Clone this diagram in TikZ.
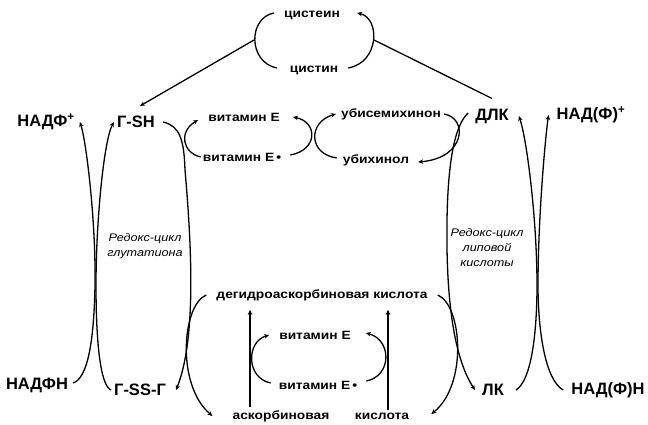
\documentclass[tikz,border=0pt]{standalone}
\usepackage{fontspec}
\setmainfont{Liberation Sans}
\newfontfamily\smallf{Liberation Sans}[FakeStretch=1.15]
\usetikzlibrary{arrows.meta,calc}
\tikzset{
  big/.style={font=\bfseries\fontsize{16.5}{18}\selectfont, inner sep=0pt},
  sm/.style={font=\smallf\bfseries\fontsize{12}{14}\selectfont, inner sep=0pt},
  it/.style={font=\smallf\itshape\fontsize{11}{15}\selectfont, inner sep=0pt, align=center},
  ln/.style={line width=1.3pt},
  arr/.style={ln, -{Stealth[length=5pt,width=4.5pt]}}
}
\begin{document}
\begin{tikzpicture}[x=1pt,y=-1pt]
\useasboundingbox (0,0) rectangle (648,425);
% nodes
\node[sm] (cys) at (312,15) {цистеин};
\node[sm] (cyss) at (314,70) {цистин};
\node[big] (nadp) at (46,122) {НАДФ\textsuperscript{+}};
\node[big] (gsh) at (136,122) {Г-SH};
\node[sm] (ve1) at (244,117) {витамин Е};
\node[sm] (ver1) at (242,157) {витамин Е\,•};
\node[sm] (usq) at (391,114) {убисемихинон};
\node[sm] (uq) at (376,160) {убихинол};
\node[big] (dlk) at (492,116) {ДЛК};
\node[big] (nadp2) at (591,115) {НАД(Ф)\textsuperscript{+}};
\node[it] (rc1) at (145,246) {Редокс-цикл\\глутатиона};
\node[it] (rc2) at (487,248) {Редокс-цикл\\липовой\\кислоты};
\node[sm] (dha) at (322,295) {дегидроаскорбиновая кислота};
\node[sm] (ve2) at (315,335) {витамин Е};
\node[sm] (ver2) at (318,385) {витамин Е\,•};
\node[sm] (asc) at (281,416) {аскорбиновая};
\node[sm] (acid) at (382,416) {кислота};
\node[big] (nadph) at (37,385) {НАДФН};
\node[big] (gssg) at (140,390) {Г-SS-Г};
\node[big] (lk) at (493,390) {ЛК};
\node[big] (nadph2) at (608,390) {НАД(Ф)Н};
\coordinate (bl) at (254,40);
\coordinate (br) at (374,40);
\coordinate (vl) at (250,0);
\coordinate (vr) at (388,0);
% cysteine / cystine
\draw[ln] ($(cys.west)+(-10,-2)$) .. controls (248,18) and (248,62) .. ($(cyss.west)+(-13,-2)$);
\draw[arr] ($(cyss.east)+(10,-2)$) .. controls (380,62) and (380,18) .. ($(cys.east)+(17,-2)$);
\draw[arr] (bl) -- ($(gsh.north)+(4,-10)$);
\draw[ln] (br) -- ($(dlk.north)+(0,-10)$);
% glutathione cycle
\draw[arr] ($(nadph.east)+(5,-2)$) .. controls (88,378) and (94,340) .. (95,285) .. controls (96,220) and (86,140) .. ($(nadp.east)+(5,0)$);
\draw[arr] ($(gssg.west)+(-3,0)$) .. controls (100,385) and (96,340) .. (96,285) .. controls (96,220) and (104,140) .. ($(gsh.west)+(-3,0)$);
\draw[arr] ($(gsh.east)+(8,0)$) .. controls (180,126) and (184,140) .. (185,170) .. controls (192,250) and (196,340) .. ($(gssg.east)+(10,0)$);
% vitamin E / ubiquinone
\draw[arr] ($(ver1.west)+(-2,0)$) .. controls (183,153) and (178,132) .. ($(ve1.west)+(-10,3)$);
\draw[arr] ($(ver1.east)+(9,-2)$) .. controls (318,150) and (318,122) .. ($(ve1.east)+(13,0)$);
\draw[arr] ($(uq.west)+(-6,-2)$) .. controls (308,154) and (308,122) .. ($(usq.west)+(-5,0)$);
\draw[arr] ($(usq.east)+(3,0)$) .. controls (468,118) and (466,158) .. ($(uq.east)+(9,2)$);
% lipoic acid cycle
\draw[arr] ($(dlk.west)+(-7,-3)$) .. controls (455,125) and (448,160) .. (447,220) .. controls (446,290) and (452,355) .. ($(lk.west)+(-7,0)$);
\draw[arr] ($(lk.east)+(12,0)$) .. controls (532,380) and (537,330) .. (537,285) .. controls (537,220) and (527,140) .. ($(dlk.east)+(10,0)$);
\draw[arr] ($(nadph2.west)+(-8,0)$) .. controls (545,380) and (538,330) .. (538,285) .. controls (538,220) and (545,140) .. ($(nadp2.west)+(-8,0)$);
% ascorbate
\draw[arr] ($(dha.west)+(-10,0)$) .. controls (182,305) and (176,385) .. ($(asc.west)+(-20,0)$);
\draw[arr] ($(dha.east)+(10,0)$) .. controls (462,305) and (468,385) .. ($(acid.east)+(22,-2)$);
\draw[arr] ($(asc.north -| vl)+(0,-3)$) -- ($(dha.south -| vl)+(0,9)$);
\draw[arr] ($(acid.north -| vr)+(0,-3)$) -- ($(dha.south -| vr)+(0,9)$);
\draw[arr] ($(ver2.west)+(-8,-2)$) .. controls (246,378) and (246,342) .. ($(ve2.west)+(-10,0)$);
\draw[arr] ($(ver2.east)+(9,-4)$) .. controls (392,376) and (392,340) .. ($(ve2.east)+(15,-2)$);
\end{tikzpicture}
\end{document}
